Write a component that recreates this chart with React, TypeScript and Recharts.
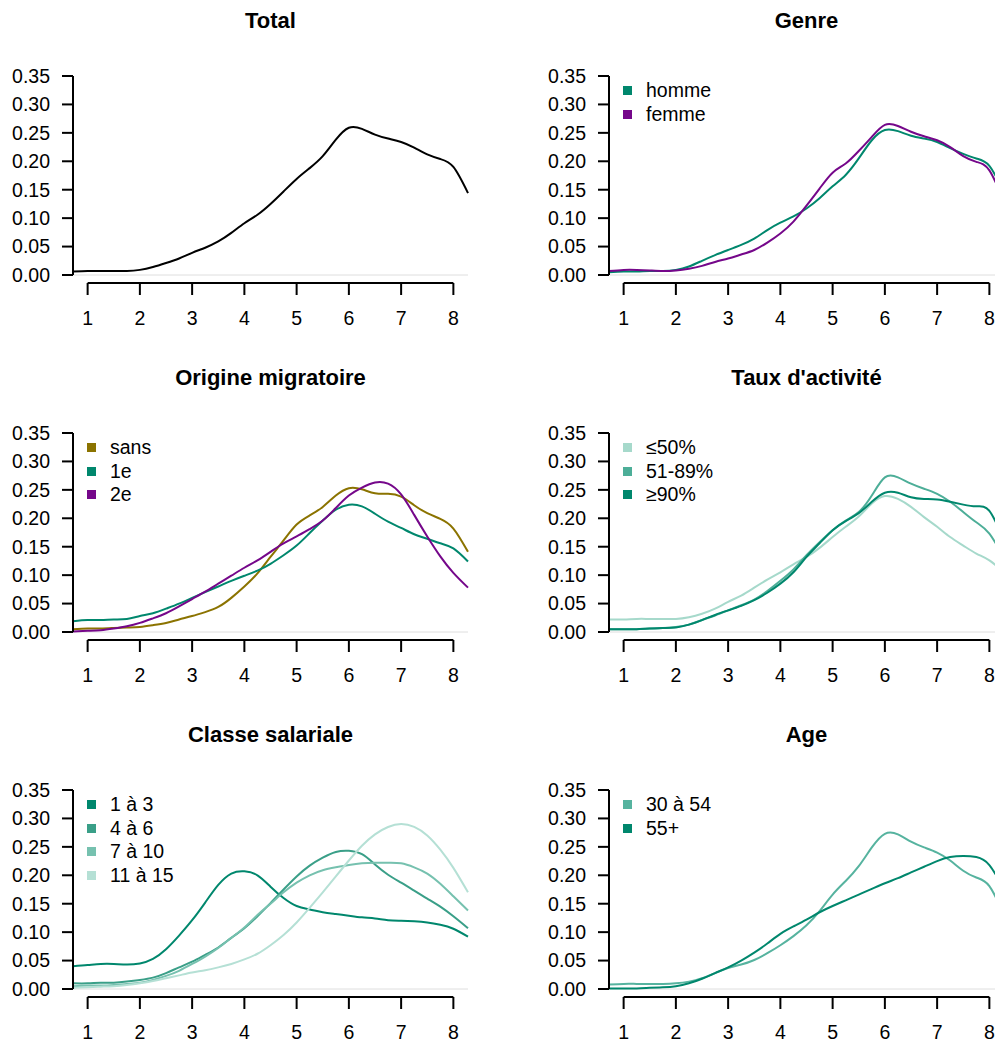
import React from 'react';
import { LineChart, Line, XAxis, YAxis, ReferenceLine, Legend } from 'recharts';

// grid of x values where the densities were read
const xs = [0.72, 1, 1.25, 1.5, 1.75, 2, 2.25, 2.5, 2.75, 3, 3.25, 3.5, 3.75, 4, 4.25, 4.5, 4.75, 5, 5.25, 5.5, 5.75, 6, 6.25, 6.5, 6.75, 7, 7.25, 7.5, 7.75, 8, 8.28];

const xTicks = [1, 2, 3, 4, 5, 6, 7, 8];
const yTicks = [0, 0.05, 0.1, 0.15, 0.2, 0.25, 0.3, 0.35];

// Total
const total = [0.006, 0.007, 0.007, 0.007, 0.007, 0.009, 0.014, 0.021, 0.029, 0.039, 0.048, 0.059, 0.074, 0.091, 0.106, 0.125, 0.147, 0.169, 0.188, 0.209, 0.238, 0.259, 0.257, 0.247, 0.240, 0.234, 0.224, 0.212, 0.204, 0.190, 0.144];

// Genre
const homme = [0.005, 0.006, 0.006, 0.007, 0.007, 0.009, 0.015, 0.025, 0.035, 0.044, 0.053, 0.064, 0.079, 0.092, 0.103, 0.117, 0.135, 0.156, 0.176, 0.205, 0.237, 0.255, 0.253, 0.245, 0.240, 0.234, 0.223, 0.213, 0.205, 0.192, 0.145];
const femme = [0.007, 0.009, 0.009, 0.008, 0.007, 0.008, 0.011, 0.016, 0.023, 0.029, 0.036, 0.044, 0.057, 0.073, 0.094, 0.122, 0.152, 0.180, 0.196, 0.218, 0.243, 0.264, 0.262, 0.252, 0.244, 0.237, 0.225, 0.209, 0.199, 0.184, 0.128];

// Origine migratoire
const sans = [0.005, 0.006, 0.006, 0.007, 0.008, 0.009, 0.012, 0.016, 0.022, 0.028, 0.035, 0.044, 0.060, 0.080, 0.103, 0.132, 0.161, 0.189, 0.205, 0.220, 0.240, 0.253, 0.251, 0.244, 0.243, 0.238, 0.223, 0.209, 0.199, 0.182, 0.141];
const premiere = [0.019, 0.021, 0.021, 0.022, 0.023, 0.028, 0.033, 0.041, 0.050, 0.060, 0.070, 0.080, 0.090, 0.099, 0.108, 0.120, 0.135, 0.152, 0.174, 0.196, 0.215, 0.224, 0.221, 0.208, 0.194, 0.183, 0.172, 0.164, 0.156, 0.147, 0.124];
const deuxieme = [0.001, 0.002, 0.003, 0.006, 0.010, 0.016, 0.024, 0.033, 0.045, 0.058, 0.071, 0.085, 0.099, 0.113, 0.126, 0.141, 0.156, 0.168, 0.181, 0.196, 0.218, 0.240, 0.254, 0.263, 0.261, 0.242, 0.206, 0.168, 0.133, 0.104, 0.078];

// Taux d'activite
const taux50 = [0.022, 0.022, 0.023, 0.023, 0.023, 0.023, 0.026, 0.032, 0.041, 0.053, 0.064, 0.078, 0.092, 0.105, 0.119, 0.132, 0.148, 0.167, 0.185, 0.203, 0.226, 0.239, 0.234, 0.220, 0.202, 0.185, 0.167, 0.152, 0.138, 0.126, 0.105];
const taux5189 = [0.005, 0.005, 0.005, 0.006, 0.007, 0.009, 0.013, 0.021, 0.029, 0.038, 0.047, 0.057, 0.072, 0.090, 0.110, 0.135, 0.158, 0.179, 0.196, 0.211, 0.240, 0.272, 0.272, 0.261, 0.252, 0.243, 0.229, 0.211, 0.193, 0.173, 0.130];
const taux90 = [0.005, 0.005, 0.005, 0.006, 0.007, 0.008, 0.013, 0.021, 0.030, 0.038, 0.046, 0.056, 0.069, 0.085, 0.105, 0.132, 0.156, 0.179, 0.195, 0.209, 0.229, 0.245, 0.245, 0.237, 0.234, 0.233, 0.229, 0.224, 0.221, 0.213, 0.160];

// Classe salariale
const classe13 = [0.040, 0.042, 0.044, 0.044, 0.043, 0.045, 0.053, 0.070, 0.094, 0.121, 0.152, 0.183, 0.203, 0.207, 0.200, 0.180, 0.160, 0.146, 0.140, 0.135, 0.132, 0.129, 0.126, 0.124, 0.121, 0.120, 0.119, 0.117, 0.113, 0.106, 0.092];
const classe46 = [0.010, 0.010, 0.011, 0.011, 0.013, 0.016, 0.020, 0.028, 0.038, 0.048, 0.060, 0.073, 0.090, 0.107, 0.128, 0.151, 0.175, 0.198, 0.217, 0.231, 0.241, 0.243, 0.237, 0.219, 0.201, 0.187, 0.173, 0.159, 0.145, 0.128, 0.107];
const classe710 = [0.005, 0.006, 0.006, 0.007, 0.009, 0.011, 0.016, 0.023, 0.032, 0.044, 0.057, 0.072, 0.090, 0.108, 0.130, 0.150, 0.170, 0.187, 0.200, 0.209, 0.214, 0.218, 0.221, 0.222, 0.222, 0.221, 0.214, 0.203, 0.185, 0.163, 0.138];
const classe1115 = [0.002, 0.003, 0.004, 0.005, 0.007, 0.010, 0.014, 0.019, 0.024, 0.029, 0.033, 0.038, 0.044, 0.052, 0.062, 0.077, 0.095, 0.117, 0.143, 0.170, 0.198, 0.226, 0.252, 0.272, 0.285, 0.290, 0.285, 0.270, 0.245, 0.213, 0.170];

// Age
const age3054 = [0.008, 0.009, 0.009, 0.009, 0.009, 0.010, 0.013, 0.019, 0.028, 0.037, 0.043, 0.051, 0.063, 0.077, 0.093, 0.112, 0.137, 0.166, 0.190, 0.216, 0.249, 0.273, 0.272, 0.259, 0.249, 0.240, 0.226, 0.208, 0.196, 0.181, 0.130];
const age55 = [0.001, 0.001, 0.001, 0.002, 0.003, 0.005, 0.010, 0.018, 0.028, 0.038, 0.050, 0.064, 0.080, 0.097, 0.110, 0.122, 0.135, 0.146, 0.156, 0.166, 0.176, 0.186, 0.195, 0.205, 0.215, 0.225, 0.232, 0.234, 0.232, 0.218, 0.175];

const TEAL = '#00876d';
const PURPLE = '#75078a';
const OLIVE = '#8b7300';

type Series = { name: string; color: string; values: number[] };
type Panel = { title: string; legend: boolean; series: Series[] };

const panels: Panel[] = [
  { title: 'Total', legend: false, series: [{ name: 'Total', color: '#000000', values: total }] },
  {
    title: 'Genre', legend: true, series: [
      { name: 'homme', color: TEAL, values: homme },
      { name: 'femme', color: PURPLE, values: femme },
    ],
  },
  {
    title: 'Origine migratoire', legend: true, series: [
      { name: 'sans', color: OLIVE, values: sans },
      { name: '1e', color: TEAL, values: premiere },
      { name: '2e', color: PURPLE, values: deuxieme },
    ],
  },
  {
    title: "Taux d'activité", legend: true, series: [
      { name: '≤50%', color: '#a6d9cb', values: taux50 },
      { name: '51-89%', color: '#4dae98', values: taux5189 },
      { name: '≥90%', color: TEAL, values: taux90 },
    ],
  },
  {
    title: 'Classe salariale', legend: true, series: [
      { name: '1 à 3', color: TEAL, values: classe13 },
      { name: '4 à 6', color: '#3a9f88', values: classe46 },
      { name: '7 à 10', color: '#76c1af', values: classe710 },
      { name: '11 à 15', color: '#b5e0d5', values: classe1115 },
    ],
  },
  {
    title: 'Age', legend: true, series: [
      { name: '30 à 54', color: '#56b39f', values: age3054 },
      { name: '55+', color: TEAL, values: age55 },
    ],
  },
];

const PANEL_W = 536;
const PANEL_H = 357;
const FONT = 19.5;
// x axis sits 8px under the plot, in data units of the y scale
const AXIS_DROP = -(8 / 199) * 0.35;

const XTick = (props: any) => {
  const { x, y, payload } = props;
  return (
    <g>
      <line x1={x} x2={x} y1={y + 8} y2={y + 20} stroke="#000" strokeWidth={2} />
      <text x={x} y={y + 50} textAnchor="middle" fontSize={FONT} fill="#000">
        {payload.value}
      </text>
    </g>
  );
};

// keep legend in series order (recharts sorts by name otherwise)
const LegendBox = ({ payload }: any) => {
  const items = [...(payload || [])].sort((a: any, b: any) =>
    String(a.dataKey).localeCompare(String(b.dataKey))
  );
  return (
    <div>
      {items.map((p: any) => (
        <div key={p.value} style={{ display: 'flex', alignItems: 'center', height: 23.5 }}>
          <span style={{ display: 'inline-block', width: 9, height: 9, background: p.color, marginRight: 14 }} />
          <span style={{ fontSize: FONT, color: '#000', whiteSpace: 'nowrap' }}>{p.value}</span>
        </div>
      ))}
    </div>
  );
};

const DensityPanel = ({ panel }: { panel: Panel }) => {
  const rows = xs.map((x, i) => {
    const row: Record<string, number> = { x };
    panel.series.forEach((s, k) => {
      row['s' + k] = s.values[i];
    });
    return row;
  });

  return (
    <div style={{ position: 'relative', width: PANEL_W, height: PANEL_H }}>
      <LineChart width={PANEL_W} height={PANEL_H} data={rows} margin={{ top: 76, right: 68, bottom: 0, left: 0 }}>
        <XAxis
          dataKey="x"
          type="number"
          domain={[0.72, 8.28]}
          ticks={xTicks}
          height={82}
          axisLine={false}
          tickLine={false}
          tickSize={0}
          tickMargin={0}
          tick={<XTick />}
          interval={0}
        />
        <YAxis
          type="number"
          domain={[0, 0.35]}
          ticks={yTicks}
          width={73}
          tickSize={11}
          tickMargin={12}
          interval={0}
          axisLine={{ stroke: '#000', strokeWidth: 2 }}
          tickLine={{ stroke: '#000', strokeWidth: 2 }}
          tick={{ fill: '#000', fontSize: FONT }}
          tickFormatter={(v: number) => v.toFixed(2)}
        />
        <ReferenceLine y={0} stroke="#dedede" strokeWidth={1} />
        <ReferenceLine
          segment={[{ x: 1, y: AXIS_DROP }, { x: 8, y: AXIS_DROP }]}
          ifOverflow="visible"
          stroke="#000"
          strokeWidth={2}
        />
        {panel.legend && (
          <Legend
            layout="vertical"
            align="center"
            verticalAlign="middle"
            content={<LegendBox />}
            wrapperStyle={{ left: 87, top: 79, width: 200, height: 'auto' }}
          />
        )}
        {panel.series.map((s, k) => (
          <Line
            key={s.name}
            dataKey={'s' + k}
            name={s.name}
            type="natural"
            stroke={s.color}
            strokeWidth={2}
            dot={false}
            activeDot={false}
            isAnimationActive={false}
          />
        ))}
      </LineChart>
      <div
        style={{
          position: 'absolute',
          left: 73,
          top: 10,
          width: 395,
          textAlign: 'center',
          fontWeight: 'bold',
          fontSize: 22,
          lineHeight: '22px',
          color: '#000',
        }}
      >
        {panel.title}
      </div>
    </div>
  );
};

export default function App() {
  return (
    <div
      style={{
        position: 'absolute',
        left: 0,
        top: 0,
        width: 995,
        height: 1043,
        overflow: 'hidden',
        background: '#fff',
        fontFamily: '"Liberation Sans", Arial, sans-serif',
      }}
    >
      {panels.map((p, i) => (
        <div
          key={p.title}
          style={{ position: 'absolute', left: (i % 2) * PANEL_W, top: Math.floor(i / 2) * PANEL_H }}
        >
          <DensityPanel panel={p} />
        </div>
      ))}
    </div>
  );
}
